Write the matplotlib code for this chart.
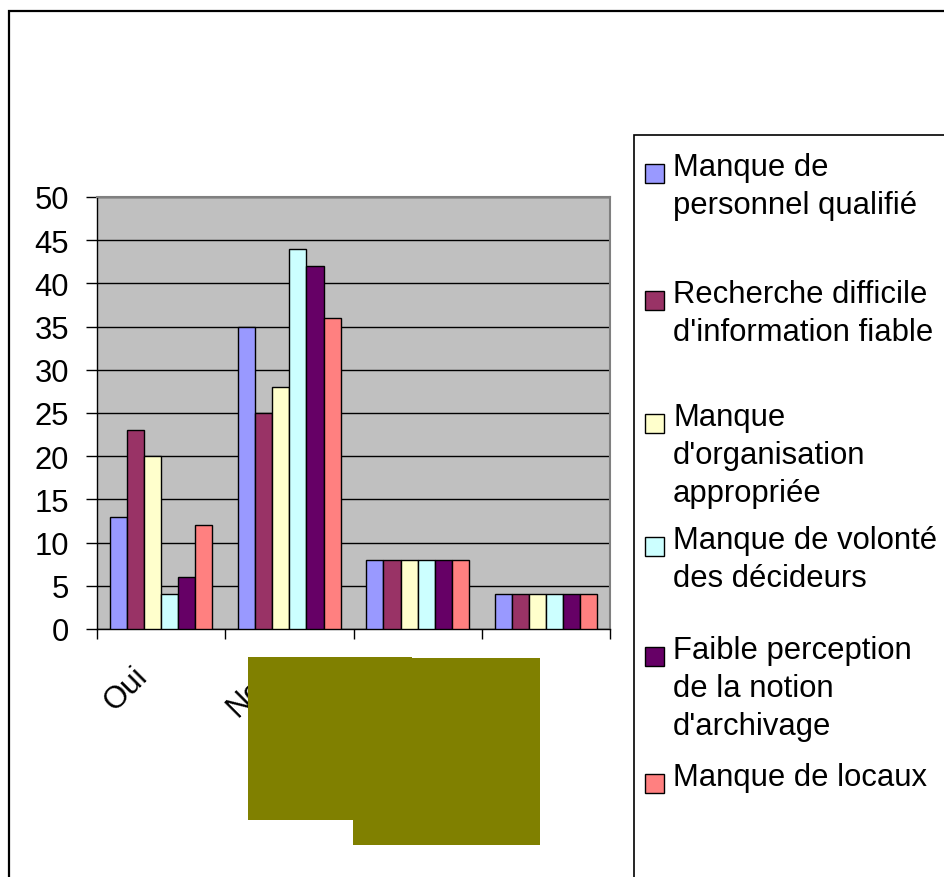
import matplotlib.pyplot as plt
from matplotlib.patches import Rectangle
from matplotlib.transforms import ScaledTranslation
import numpy as np

plt.rcParams['font.family'] = ['Liberation Sans', 'DejaVu Sans']

# categories (the last two labels are hidden under the boxes in the original)
categories = ["Oui", "Non", "", ""]
series_names = [
    "Manque de\npersonnel qualifié",
    "Recherche difficile\nd'information fiable",
    "Manque\nd'organisation\nappropriée",
    "Manque de volonté\ndes décideurs",
    "Faible perception\nde la notion\nd'archivage",
    "Manque de locaux",
]
personnel = [13, 35, 8, 4]
recherche = [23, 25, 8, 4]
organisation = [20, 28, 8, 4]
volonte = [4, 44, 8, 4]
perception = [6, 42, 8, 4]
locaux = [12, 36, 8, 4]
series_values = [personnel, recherche, organisation, volonte, perception, locaux]
colors = ["#9999FF", "#993366", "#FFFFCC", "#CCFFFF", "#660066", "#FF8080"]

W, H = 944, 878
FS = 22.3
fig = plt.figure(figsize=(W / 100, H / 100), dpi=100)


def fx(x):
    return x / W


def fy(y):
    return 1 - y / H


# plot area
ax = fig.add_axes([fx(97), fy(630), (610 - 97) / W, (630 - 198) / H])
ax.set_facecolor("#C0C0C0")

n = len(series_values)
width = 1 / (n + 1.5)
x = np.arange(len(categories))
for j, (vals, col) in enumerate(zip(series_values, colors)):
    ax.bar(x + (j - (n - 1) / 2) * width, vals, width, color=col,
           edgecolor="black", linewidth=1, zorder=3)

ax.set_xlim(-0.5, len(categories) - 0.5)
ax.set_ylim(0, 50)
ax.set_yticks(np.arange(0, 51, 5))
ax.yaxis.grid(True, color="black", linewidth=1)
ax.set_axisbelow(True)
ax.tick_params(axis="y", direction="out", length=8, width=1, pad=12, labelsize=FS)

ax.set_xticks(np.arange(-0.5, len(categories), 1))
ax.set_xticklabels([])
ax.tick_params(axis="x", which="major", direction="out", length=7, width=1)
ax.set_xticks(x, minor=True)
ax.set_xticklabels(categories, minor=True, rotation=45, ha="right", va="top", fontsize=FS)
ax.tick_params(axis="x", which="minor", length=0, pad=23)
shift = ScaledTranslation(-7 / 100, 0, fig.dpi_scale_trans)
for lab in ax.get_xticklabels(minor=True):
    lab.set_transform(lab.get_transform() + shift)

for s in ["top", "right"]:
    ax.spines[s].set_color("#808080")
    ax.spines[s].set_linewidth(1.5)
for s in ["left", "bottom"]:
    ax.spines[s].set_color("black")
    ax.spines[s].set_linewidth(1)

# chart border
fig.patches.append(Rectangle((fx(9), fy(H + 20)), (W + 20) / W, (H + 20 - 12) / H,
                             transform=fig.transFigure, fill=False,
                             edgecolor="black", linewidth=1.6, zorder=0))

# legend box
fig.patches.append(Rectangle((fx(634), fy(H + 20)), (W + 20 - 634) / W, (H + 20 - 136) / H,
                             transform=fig.transFigure, fill=False,
                             edgecolor="black", linewidth=1.2, zorder=1))

legend_tops = [155, 282, 405, 528, 638, 765]
for name, col, top in zip(series_names, colors, legend_tops):
    base = top + 21
    fig.patches.append(Rectangle((fx(645), fy(base + 8)), 19 / W, 19 / H,
                                 transform=fig.transFigure, facecolor=col,
                                 edgecolor="black", linewidth=1, zorder=2))
    for k, line in enumerate(name.split("\n")):
        fig.text(fx(673), fy(base + 38 * k), line, fontsize=FS, va="baseline", ha="left")

# olive boxes covering the category labels
fig.patches.append(Rectangle((fx(353), fy(846)), (540 - 353) / W, (846 - 659) / H,
                             transform=fig.transFigure, facecolor="#808000",
                             edgecolor="none", zorder=5))
fig.patches.append(Rectangle((fx(248), fy(821)), (412 - 248) / W, (821 - 658) / H,
                             transform=fig.transFigure, facecolor="#808000",
                             edgecolor="none", zorder=5))

fig.savefig("out.png", dpi=100)
